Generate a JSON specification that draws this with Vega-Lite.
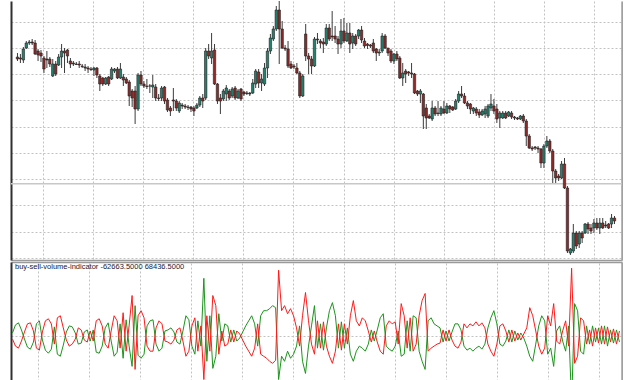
{
"$schema": "https://vega.github.io/schema/vega-lite/v6.json",
"background": "white",
"padding": {"left": 10, "top": 0, "right": 0, "bottom": 0},
"spacing": 2,
"bounds": "flush",
"config": {
  "view": {"stroke": null},
  "axis": {"labels": false, "ticks": false, "title": null, "gridDash": [2, 2], "gridColor": "#c2c2c2", "gridWidth": 1}
},
"datasets": {
"level": [{"price": 817.3}],
"candles": [
{"i":0,"o":944,"h":948,"l":940,"c":942},{"i":1,"o":943,"h":947,"l":938,"c":942},{"i":2,"o":941,"h":954,"l":938,"c":952},{"i":3,"o":953,"h":960,"l":952,"c":958},{"i":4,"o":958,"h":961,"l":956,"c":959},{"i":5,"o":959,"h":962,"l":956,"c":958},{"i":6,"o":958,"h":961,"l":946,"c":947},{"i":7,"o":950,"h":952,"l":940,"c":946},{"i":8,"o":948,"h":951,"l":939,"c":945},{"i":9,"o":943,"h":945,"l":928,"c":932},
{"i":10,"o":942,"h":950,"l":933,"c":941},{"i":11,"o":942,"h":944,"l":934,"c":937},{"i":12,"o":925,"h":942,"l":924,"c":937},{"i":13,"o":937,"h":940,"l":925,"c":927},{"i":14,"o":936,"h":947,"l":935,"c":944},{"i":15,"o":944,"h":957,"l":933,"c":950},{"i":16,"o":950,"h":953,"l":928,"c":948},{"i":17,"o":951,"h":952,"l":938,"c":945},{"i":18,"o":940,"h":943,"l":933,"c":937},{"i":19,"o":938,"h":940,"l":935,"c":937},
{"i":20,"o":937,"h":939,"l":936,"c":936.5},{"i":21,"o":937,"h":940,"l":933,"c":936},{"i":22,"o":935,"h":937,"l":933,"c":934.5},{"i":23,"o":934,"h":937,"l":930,"c":933},{"i":24,"o":933,"h":935,"l":928,"c":932},{"i":25,"o":932,"h":934,"l":930,"c":931.5},{"i":26,"o":931,"h":934,"l":925,"c":933},{"i":27,"o":933,"h":934,"l":923,"c":926},{"i":28,"o":925,"h":927,"l":910,"c":917},{"i":29,"o":923,"h":924,"l":915,"c":917},
{"i":30,"o":917,"h":924,"l":916,"c":923},{"i":31,"o":924,"h":925,"l":915,"c":917},{"i":32,"o":922,"h":934,"l":921,"c":932},{"i":33,"o":930,"h":933,"l":928,"c":932},{"i":34,"o":932,"h":934,"l":922,"c":923},{"i":35,"o":923,"h":938,"l":922,"c":932},{"i":36,"o":924,"h":927,"l":915,"c":921},{"i":37,"o":922,"h":924,"l":917,"c":918},{"i":38,"o":919,"h":921,"l":895,"c":905},{"i":39,"o":910,"h":912,"l":894,"c":903},
{"i":40,"o":910,"h":915,"l":877,"c":892},{"i":41,"o":892,"h":928,"l":890,"c":926},{"i":42,"o":926,"h":930,"l":915,"c":917},{"i":43,"o":917,"h":920,"l":913,"c":915},{"i":44,"o":915,"h":922,"l":912,"c":914.5},{"i":45,"o":915,"h":917,"l":908,"c":915},{"i":46,"o":914,"h":926,"l":903,"c":916},{"i":47,"o":914,"h":917,"l":900,"c":903},{"i":48,"o":903,"h":907,"l":900,"c":902.5},{"i":49,"o":903,"h":915,"l":900,"c":913},
{"i":50,"o":914,"h":915,"l":897,"c":900},{"i":51,"o":901,"h":903,"l":889,"c":891},{"i":52,"o":893,"h":895,"l":885,"c":890},{"i":53,"o":901,"h":913,"l":890,"c":900},{"i":54,"o":900,"h":902,"l":890,"c":893},{"i":55,"o":890,"h":900,"l":888,"c":898},{"i":56,"o":896,"h":898,"l":892,"c":895},{"i":57,"o":895,"h":897,"l":892,"c":894},{"i":58,"o":894,"h":896,"l":891,"c":893.5},{"i":59,"o":894,"h":895,"l":889,"c":892},
{"i":60,"o":893,"h":895,"l":885,"c":890},{"i":61,"o":893,"h":898,"l":892,"c":896},{"i":62,"o":896,"h":905,"l":894,"c":903},{"i":63,"o":903,"h":907,"l":893,"c":900},{"i":64,"o":903,"h":953,"l":901,"c":950},{"i":65,"o":950,"h":957,"l":942,"c":945},{"i":66,"o":943,"h":968,"l":937,"c":950},{"i":67,"o":951,"h":957,"l":916,"c":917},{"i":68,"o":917,"h":918,"l":897,"c":900},{"i":69,"o":903,"h":907,"l":887,"c":900},
{"i":70,"o":902,"h":912,"l":900,"c":910},{"i":71,"o":907,"h":916,"l":900,"c":913},{"i":72,"o":910,"h":912,"l":901,"c":903},{"i":73,"o":905,"h":914,"l":903,"c":912},{"i":74,"o":913,"h":915,"l":901,"c":903},{"i":75,"o":903,"h":912,"l":902,"c":910},{"i":76,"o":912,"h":913,"l":900,"c":902},{"i":77,"o":909,"h":910,"l":905,"c":907},{"i":78,"o":908,"h":910,"l":906,"c":907.5},{"i":79,"o":908,"h":909,"l":905,"c":907},
{"i":80,"o":908,"h":922,"l":907,"c":918},{"i":81,"o":917,"h":932,"l":913,"c":930},{"i":82,"o":929,"h":932,"l":913,"c":918},{"i":83,"o":918,"h":927,"l":910,"c":922},{"i":84,"o":917,"h":938,"l":915,"c":933},{"i":85,"o":933,"h":953,"l":923,"c":950},{"i":86,"o":950,"h":967,"l":947,"c":963},{"i":87,"o":962,"h":975,"l":960,"c":972},{"i":88,"o":972,"h":995,"l":970,"c":991},{"i":89,"o":991,"h":1000,"l":937,"c":972},
{"i":90,"o":972,"h":980,"l":952,"c":953},{"i":91,"o":953,"h":956,"l":950,"c":952},{"i":92,"o":952,"h":960,"l":933,"c":935},{"i":93,"o":937,"h":940,"l":932,"c":933},{"i":94,"o":935,"h":937,"l":932,"c":934},{"i":95,"o":933,"h":938,"l":927,"c":928},{"i":96,"o":928,"h":930,"l":903,"c":905},{"i":97,"o":905,"h":927,"l":904,"c":925},{"i":98,"o":967,"h":977,"l":940,"c":945},{"i":99,"o":945,"h":948,"l":927,"c":942},
{"i":100,"o":942,"h":945,"l":927,"c":935},{"i":101,"o":935,"h":964,"l":934,"c":962},{"i":102,"o":962,"h":968,"l":957,"c":961},{"i":103,"o":960,"h":962,"l":953,"c":958},{"i":104,"o":959,"h":963,"l":948,"c":957},{"i":105,"o":957,"h":977,"l":955,"c":973},{"i":106,"o":973,"h":977,"l":960,"c":962},{"i":107,"o":965,"h":990,"l":960,"c":964},{"i":108,"o":965,"h":975,"l":958,"c":962},{"i":109,"o":962,"h":965,"l":947,"c":957},
{"i":110,"o":957,"h":982,"l":953,"c":970},{"i":111,"o":970,"h":983,"l":958,"c":960},{"i":112,"o":960,"h":978,"l":959,"c":968},{"i":113,"o":968,"h":978,"l":948,"c":957},{"i":114,"o":958,"h":968,"l":952,"c":965},{"i":115,"o":965,"h":967,"l":955,"c":957},{"i":116,"o":965,"h":972,"l":962,"c":971},{"i":117,"o":971,"h":975,"l":958,"c":961},{"i":118,"o":960,"h":963,"l":953,"c":955},{"i":119,"o":957,"h":958,"l":952,"c":955.5},
{"i":120,"o":956,"h":957,"l":953,"c":955},{"i":121,"o":958,"h":962,"l":948,"c":950},{"i":122,"o":952,"h":953,"l":940,"c":948},{"i":123,"o":948,"h":952,"l":945,"c":949},{"i":124,"o":950,"h":968,"l":948,"c":965},{"i":125,"o":965,"h":967,"l":952,"c":953},{"i":126,"o":953,"h":953,"l":945,"c":948},{"i":127,"o":950,"h":952,"l":938,"c":940},{"i":128,"o":940,"h":948,"l":937,"c":947},{"i":129,"o":947,"h":950,"l":940,"c":942},
{"i":130,"o":943,"h":945,"l":922,"c":923},{"i":131,"o":923,"h":938,"l":915,"c":928},{"i":132,"o":930,"h":932,"l":918,"c":927},{"i":133,"o":929,"h":930,"l":925,"c":928},{"i":134,"o":928,"h":938,"l":923,"c":927},{"i":135,"o":927,"h":928,"l":907,"c":908},{"i":136,"o":910,"h":911,"l":905,"c":907},{"i":137,"o":907,"h":912,"l":898,"c":910},{"i":138,"o":907,"h":908,"l":872,"c":885},{"i":139,"o":893,"h":897,"l":872,"c":883},
{"i":140,"o":885,"h":887,"l":882,"c":883},{"i":141,"o":882,"h":900,"l":880,"c":893},{"i":142,"o":893,"h":895,"l":885,"c":887},{"i":143,"o":888,"h":900,"l":885,"c":887.5},{"i":144,"o":887,"h":895,"l":885,"c":893},{"i":145,"o":892,"h":900,"l":887,"c":888},{"i":146,"o":888,"h":898,"l":887,"c":895},{"i":147,"o":895,"h":896,"l":888,"c":892},{"i":148,"o":894,"h":895,"l":890,"c":891},{"i":149,"o":892,"h":902,"l":891,"c":900},
{"i":150,"o":900,"h":910,"l":898,"c":907},{"i":151,"o":907,"h":915,"l":903,"c":905},{"i":152,"o":905,"h":908,"l":897,"c":898},{"i":153,"o":898,"h":900,"l":892,"c":895},{"i":154,"o":897,"h":898,"l":887,"c":892},{"i":155,"o":890,"h":894,"l":887,"c":893},{"i":156,"o":892,"h":894,"l":885,"c":888},{"i":157,"o":889,"h":892,"l":883,"c":886},{"i":158,"o":886,"h":892,"l":885,"c":890},{"i":159,"o":887,"h":895,"l":883,"c":892},
{"i":160,"o":885,"h":897,"l":883,"c":895},{"i":161,"o":893,"h":907,"l":890,"c":897},{"i":162,"o":895,"h":902,"l":887,"c":890},{"i":163,"o":892,"h":897,"l":878,"c":882},{"i":164,"o":883,"h":890,"l":873,"c":888},{"i":165,"o":883,"h":890,"l":882,"c":888},{"i":166,"o":888,"h":890,"l":882,"c":883},{"i":167,"o":885,"h":890,"l":884,"c":889},{"i":168,"o":888,"h":890,"l":882,"c":884},{"i":169,"o":884,"h":885,"l":881,"c":883},
{"i":170,"o":883,"h":884,"l":881,"c":882},{"i":171,"o":882,"h":886,"l":881,"c":885},{"i":172,"o":885,"h":887,"l":878,"c":880},{"i":173,"o":880,"h":882,"l":855,"c":865},{"i":174,"o":865,"h":867,"l":852,"c":853},{"i":175,"o":853,"h":855,"l":850,"c":852},{"i":176,"o":854,"h":855,"l":851,"c":853},{"i":177,"o":853,"h":855,"l":848,"c":852},{"i":178,"o":852,"h":853,"l":833,"c":838},{"i":179,"o":838,"h":857,"l":833,"c":855},
{"i":180,"o":855,"h":865,"l":853,"c":860},{"i":181,"o":860,"h":862,"l":848,"c":850},{"i":182,"o":850,"h":852,"l":818,"c":830},{"i":183,"o":830,"h":832,"l":818,"c":823},{"i":184,"o":825,"h":827,"l":820,"c":823},{"i":185,"o":823,"h":840,"l":822,"c":837},{"i":186,"o":837,"h":843,"l":812,"c":813},{"i":187,"o":813,"h":815,"l":748,"c":750},{"i":188,"o":748,"h":753,"l":746,"c":752},{"i":189,"o":750,"h":777,"l":748,"c":768},
{"i":190,"o":768,"h":770,"l":752,"c":755},{"i":191,"o":757,"h":770,"l":753,"c":768},{"i":192,"o":768,"h":770,"l":758,"c":763},{"i":193,"o":768,"h":778,"l":767,"c":777},{"i":194,"o":777,"h":779,"l":767,"c":772},{"i":195,"o":773,"h":777,"l":767,"c":770},{"i":196,"o":773,"h":782,"l":768,"c":778},{"i":197,"o":778,"h":783,"l":771,"c":773},{"i":198,"o":773,"h":783,"l":767,"c":778},{"i":199,"o":778,"h":783,"l":772,"c":773},
{"i":200,"o":776,"h":780,"l":773,"c":775},{"i":201,"o":777,"h":778,"l":772,"c":773},{"i":202,"o":777,"h":787,"l":773,"c":783},{"i":203,"o":783,"h":785,"l":777,"c":780}
],
"ind": [
{"i":0,"r":-2808,"g":2808},{"i":1,"r":-9360,"g":10296},{"i":2,"r":-11232,"g":12168},{"i":3,"r":-4680,"g":5616},{"i":4,"r":3744,"g":-2808},{"i":5,"r":11232,"g":-10296},{"i":6,"r":12168,"g":-12168},{"i":7,"r":4680,"g":-5616},{"i":8,"r":-11232,"g":11232},{"i":9,"r":-13104,"g":14040},
{"i":10,"r":3744,"g":-3744},{"i":11,"r":14040,"g":-13104},{"i":12,"r":15912,"g":-15912},{"i":13,"r":11232,"g":-12168},{"i":14,"r":-7488,"g":8424},{"i":15,"r":16848,"g":-16848},{"i":16,"r":18720,"g":-18720},{"i":17,"r":7488,"g":-8424},{"i":18,"r":-3744,"g":3744},{"i":19,"r":-9360,"g":9360},
{"i":20,"r":-7488,"g":8424},{"i":21,"r":-2808,"g":2808},{"i":22,"r":7488,"g":-7488},{"i":23,"r":5616,"g":-6552},{"i":24,"r":-3744,"g":3744},{"i":25,"r":-5616,"g":5616},{"i":26,"r":4680,"g":-4680},{"i":27,"r":-4680,"g":5616},{"i":28,"r":14040,"g":-14976},{"i":29,"r":15912,"g":-15912},
{"i":30,"r":9360,"g":-9360},{"i":31,"r":-7488,"g":7488},{"i":32,"r":-11232,"g":12168},{"i":33,"r":4680,"g":-4680},{"i":34,"r":18720,"g":-18720},{"i":35,"r":14040,"g":-14976},{"i":36,"r":-11232,"g":11232},{"i":37,"r":21528,"g":-20592},{"i":38,"r":-14040,"g":14976},{"i":39,"r":9360,"g":-9360},
{"i":40,"r":37440,"g":-28080},{"i":41,"r":-30888,"g":28080},{"i":42,"r":18720,"g":-17784},{"i":43,"r":23400,"g":-20592},{"i":44,"r":16848,"g":-16848},{"i":45,"r":-9360,"g":9360},{"i":46,"r":-14040,"g":14040},{"i":47,"r":-14040,"g":14976},{"i":48,"r":7488,"g":-7488},{"i":49,"r":14040,"g":-14040},
{"i":50,"r":11232,"g":-11232},{"i":51,"r":-4680,"g":4680},{"i":52,"r":-5616,"g":5616},{"i":53,"r":-7488,"g":7488},{"i":54,"r":-3744,"g":3744},{"i":55,"r":5616,"g":-5616},{"i":56,"r":7488,"g":-7488},{"i":57,"r":-4680,"g":4680},{"i":58,"r":-18720,"g":18720},{"i":59,"r":-14040,"g":14976},
{"i":60,"r":9360,"g":-9360},{"i":61,"r":16848,"g":-16848},{"i":62,"r":-14040,"g":14040},{"i":63,"r":9360,"g":-9360},{"i":64,"r":-40248,"g":53352},{"i":65,"r":18720,"g":-23400},{"i":66,"r":-14040,"g":18720},{"i":67,"r":37440,"g":-29952},{"i":68,"r":28080,"g":-18720},{"i":69,"r":-16848,"g":20592},
{"i":70,"r":4680,"g":-4680},{"i":71,"r":-9360,"g":11232},{"i":72,"r":-7488,"g":9360},{"i":73,"r":5616,"g":-5616},{"i":74,"r":-5616,"g":5616},{"i":75,"r":4680,"g":-4680},{"i":76,"r":1872,"g":-1872},{"i":77,"r":-3744,"g":3744},{"i":78,"r":-9360,"g":9360},{"i":79,"r":-14040,"g":14040},
{"i":80,"r":-18720,"g":18720},{"i":81,"r":-11232,"g":11232},{"i":82,"r":11232,"g":-9360},{"i":83,"r":-16848,"g":18720},{"i":84,"r":-18720,"g":23400},{"i":85,"r":-20592,"g":23400},{"i":86,"r":-23400,"g":25272},{"i":87,"r":-25272,"g":28080},{"i":88,"r":-22464,"g":26208},{"i":89,"r":60840,"g":-40248},
{"i":90,"r":23400,"g":-18720},{"i":91,"r":28080,"g":-23400},{"i":92,"r":20592,"g":-14040},{"i":93,"r":25272,"g":-20592},{"i":94,"r":18720,"g":-16848},{"i":95,"r":7488,"g":-9360},{"i":96,"r":-9360,"g":9360},{"i":97,"r":18720,"g":-23400},{"i":98,"r":40248,"g":-34632},{"i":99,"r":14040,"g":-9360},
{"i":100,"r":-7488,"g":9360},{"i":101,"r":-16848,"g":28080},{"i":102,"r":14040,"g":-11232},{"i":103,"r":-11232,"g":11232},{"i":104,"r":13104,"g":-13104},{"i":105,"r":-9360,"g":7488},{"i":106,"r":-18720,"g":23400},{"i":107,"r":-25272,"g":30888},{"i":108,"r":-14040,"g":18720},{"i":109,"r":11232,"g":-11232},
{"i":110,"r":-13104,"g":13104},{"i":111,"r":11232,"g":-11232},{"i":112,"r":-7488,"g":7488},{"i":113,"r":18720,"g":-16848},{"i":114,"r":32760,"g":-23400},{"i":115,"r":14040,"g":-14040},{"i":116,"r":9360,"g":-9360},{"i":117,"r":16848,"g":-11232},{"i":118,"r":14040,"g":-14040},{"i":119,"r":4680,"g":-7488},
{"i":120,"r":-5616,"g":5616},{"i":121,"r":4680,"g":-4680},{"i":122,"r":-5616,"g":5616},{"i":123,"r":-14040,"g":16848},{"i":124,"r":-16848,"g":20592},{"i":125,"r":9360,"g":-9360},{"i":126,"r":14040,"g":-12168},{"i":127,"r":11232,"g":-14040},{"i":128,"r":13104,"g":-9360},{"i":129,"r":-7488,"g":4680},
{"i":130,"r":29952,"g":-18720},{"i":131,"r":18720,"g":-16848},{"i":132,"r":-11232,"g":14040},{"i":133,"r":16848,"g":-14040},{"i":134,"r":-14040,"g":18720},{"i":135,"r":-7488,"g":16848},{"i":136,"r":18720,"g":-14040},{"i":137,"r":32760,"g":-23400},{"i":138,"r":39312,"g":-30888},{"i":139,"r":-14040,"g":14040},
{"i":140,"r":-11232,"g":16848},{"i":141,"r":-9360,"g":11232},{"i":142,"r":-7488,"g":9360},{"i":143,"r":-6552,"g":7488},{"i":144,"r":5616,"g":-5616},{"i":145,"r":-4680,"g":4680},{"i":146,"r":5616,"g":-4680},{"i":147,"r":-3744,"g":3744},{"i":148,"r":-9360,"g":11232},{"i":149,"r":-11232,"g":11232},
{"i":150,"r":-5616,"g":5616},{"i":151,"r":11232,"g":-9360},{"i":152,"r":7488,"g":-13104},{"i":153,"r":11232,"g":-11232},{"i":154,"r":9360,"g":-14040},{"i":155,"r":13104,"g":-11232},{"i":156,"r":9360,"g":-9360},{"i":157,"r":12168,"g":-12168},{"i":158,"r":7488,"g":-7488},{"i":159,"r":-7488,"g":7488},
{"i":160,"r":-14040,"g":16848},{"i":161,"r":-18720,"g":23400},{"i":162,"r":-7488,"g":11232},{"i":163,"r":9360,"g":-7488},{"i":164,"r":11232,"g":-9360},{"i":165,"r":4680,"g":-4680},{"i":166,"r":-5616,"g":5616},{"i":167,"r":5616,"g":-5616},{"i":168,"r":-4680,"g":4680},{"i":169,"r":2808,"g":-3744},
{"i":170,"r":-3744,"g":2808},{"i":171,"r":1872,"g":-1872},{"i":172,"r":7488,"g":-9360},{"i":173,"r":26208,"g":-18720},{"i":174,"r":18720,"g":-23400},{"i":175,"r":4680,"g":-7488},{"i":176,"r":-9360,"g":9360},{"i":177,"r":-16848,"g":18720},{"i":178,"r":-11232,"g":14040},{"i":179,"r":18720,"g":-16848},
{"i":180,"r":9360,"g":-11232},{"i":181,"r":29952,"g":-28080},{"i":182,"r":-4680,"g":4680},{"i":183,"r":-7488,"g":9360},{"i":184,"r":4680,"g":-4680},{"i":185,"r":14040,"g":-14040},{"i":186,"r":-9360,"g":9360},{"i":187,"r":62712,"g":-62663.5},{"i":188,"r":-25272,"g":29952},{"i":189,"r":-18720,"g":23400},
{"i":190,"r":16848,"g":-14040},{"i":191,"r":14040,"g":-16848},{"i":192,"r":-7488,"g":9360},{"i":193,"r":5616,"g":-7488},{"i":194,"r":-9360,"g":9360},{"i":195,"r":7488,"g":-5616},{"i":196,"r":-6552,"g":7488},{"i":197,"r":9360,"g":-7488},{"i":198,"r":-7488,"g":9360},{"i":199,"r":8424,"g":-9360},
{"i":200,"r":-5616,"g":5616},{"i":201,"r":6552,"g":-6552},{"i":202,"r":-7488,"g":5616},{"i":203,"r":4680,"g":-5616}
]
},
"vconcat": [
{
  "width": 611,
  "height": 259,
  "layer": [
    {
      "data": {"name": "level"},
      "mark": {"type": "rule", "color": "#c8c8c8", "strokeWidth": 1.5},
      "encoding": {
        "y": {"field": "price", "type": "quantitative", "scale": {"domain": [741, 1000], "nice": false, "zero": false},
              "axis": {"orient": "right", "grid": false, "domain": true, "domainColor": "#a0a0a0", "domainWidth": 2.5}}
      }
    },
    {
      "data": {"name": "candles"},
      "mark": {"type": "rule", "color": "#3c3c3c", "strokeWidth": 1},
      "encoding": {
        "x": {"field": "i", "type": "quantitative", "scale": {"domain": [-0.5, 203.85], "nice": false, "zero": false},
              "axis": {"orient": "bottom", "grid": true, "domain": true, "domainColor": "#9a9a9a", "domainWidth": 1.5,
                       "values": [8.53,17.06,25.59,34.11,42.64,51.17,59.70,68.23,76.75,85.28,93.81,102.34,110.87,119.39,127.92,136.45,144.98,153.51,162.03,170.56,179.09,187.62,196.15]}},
        "y": {"field": "l", "type": "quantitative", "scale": {"domain": [741, 1000], "nice": false, "zero": false},
              "axis": {"orient": "left", "grid": true, "domain": true, "domainColor": "#303030", "domainWidth": 2,
                       "values": [979.33,953.07,926.81,900.55,874.29,848.03,821.77,795.51,769.25,742.99]}},
        "y2": {"field": "h"}
      }
    },
    {
      "data": {"name": "candles"},
      "mark": {"type": "bar", "width": 2.4, "stroke": "#202020", "strokeWidth": 0.6},
      "encoding": {
        "x": {"field": "i", "type": "quantitative"},
        "y": {"field": "o", "type": "quantitative", "scale": {"domain": [741, 1000], "nice": false, "zero": false}, "axis": null},
        "y2": {"field": "c"},
        "fill": {"condition": {"test": "datum.c >= datum.o", "value": "#26806e"}, "value": "#8e2a2a"}
      }
    }
  ],
  "resolve": {"scale": {"y": "independent"}, "axis": {"y": "independent"}}
},
{
  "width": 611,
  "height": 119,
  "title": {"text": "buy-sell-volume-indicator -62663.5000 68436.5000", "anchor": "start", "frame": "group", "orient": "top", "offset": 0, "dx": 4, "dy": 14, "fontSize": 7.5, "font": "Liberation Sans", "fontWeight": "normal", "color": "#202030", "baseline": "alphabetic"},
  "layer": [
    {
      "data": {"name": "ind"},
      "mark": {"type": "line", "color": "#1c941c", "strokeWidth": 1, "clip": true},
      "encoding": {
        "x": {"field": "i", "type": "quantitative", "scale": {"domain": [-0.5, 203.85], "nice": false, "zero": false},
              "axis": {"orient": "top", "grid": true, "domain": true, "domainColor": "#9a9a9a", "domainWidth": 1.5,
                       "values": [8.53,17.06,25.59,34.11,42.64,51.17,59.70,68.23,76.75,85.28,93.81,102.34,110.87,119.39,127.92,136.45,144.98,153.51,162.03,170.56,179.09,187.62,196.15]}},
        "y": {"field": "g", "type": "quantitative", "scale": {"domain": [-41616, 68436.5], "nice": false, "zero": false},
              "axis": {"orient": "left", "grid": true, "domain": true, "domainColor": "#303030", "domainWidth": 2, "values": [0]}}
      }
    },
    {
      "data": {"name": "ind"},
      "mark": {"type": "line", "color": "#ff1a1a", "strokeWidth": 1, "clip": true},
      "encoding": {
        "x": {"field": "i", "type": "quantitative"},
        "y": {"field": "r", "type": "quantitative", "scale": {"domain": [-41616, 68436.5], "nice": false, "zero": false},
              "axis": {"orient": "right", "grid": false, "domain": true, "domainColor": "#a0a0a0", "domainWidth": 2.5}}
      }
    }
  ],
  "resolve": {"scale": {"y": "independent"}, "axis": {"y": "independent"}}
}
]
}
